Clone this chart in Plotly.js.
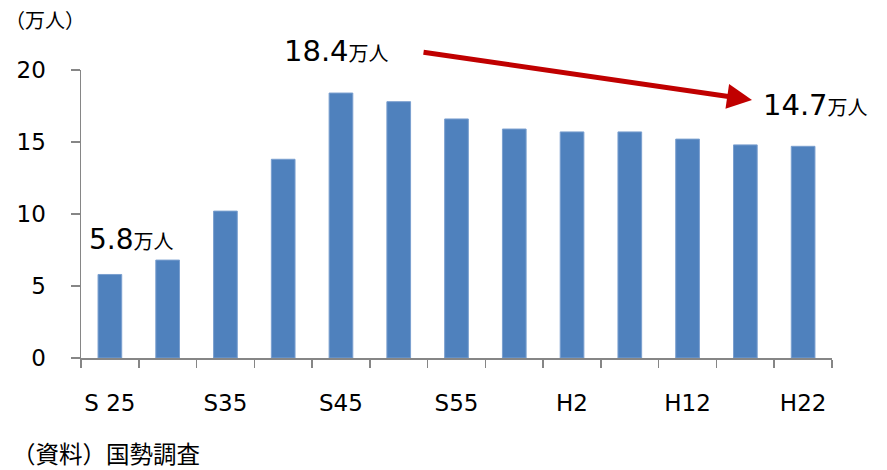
<!DOCTYPE html>
<html>
<head>
<meta charset="utf-8">
<script src="https://cdn.plot.ly/plotly-3.0.1.min.js"></script>
<style>html,body{margin:0;padding:0;background:#fff;}#chart{width:887px;height:470px;}</style>
</head>
<body>
<div id="chart"></div>
<script>
const categories = ["S25","S30","S35","S40","S45","S50","S55","S60","H2","H7","H12","H17","H22"];
const tickLabels = ["S 25","","S35","","S45","","S55","","H2","","H12","","H22"];
const population = [5.8, 6.8, 10.2, 13.8, 18.4, 17.8, 16.6, 15.9, 15.7, 15.7, 15.2, 14.8, 14.7];
const yTicks = [0, 5, 10, 15, 20];

const FONT = "DejaVu Sans, Verdana, 'Noto Sans CJK JP', sans-serif";
const JP = "'Noto Sans CJK JP', sans-serif";

const trace = {
  type: "bar",
  x: categories,
  y: population,
  marker: {color: "#4F81BD", line: {color: "#7A9FCF", width: 1}},
  hoverinfo: "x+y"
};

const unit = s => `<span style="font-size:20px;font-family:'Noto Sans CJK JP'">${s}</span>`;

const layout = {
  width: 887, height: 470,
  margin: {l: 81, r: 55, t: 70, b: 112},
  paper_bgcolor: "#fff", plot_bgcolor: "#fff",
  showlegend: false,
  bargap: 0.59,
  font: {family: FONT, color: "#000"},
  xaxis: {
    type: "category",
    tickmode: "array",
    tickvals: categories,
    ticktext: tickLabels,
    tickson: "boundaries",
    tickangle: 0,
    ticks: "outside", ticklen: 8, tickcolor: "#868686", tickwidth: 1.5,
    showline: true, linecolor: "#868686", linewidth: 1.5,
    showgrid: false, zeroline: false,
    tickfont: {size: 23, family: FONT, color: "#000"},
    ticklabelstandoff: 24
  },
  yaxis: {
    range: [0, 20],
    tickmode: "array",
    tickvals: yTicks,
    ticks: "outside", ticklen: 9, tickcolor: "#868686", tickwidth: 1.5,
    showline: true, linecolor: "#868686", linewidth: 1.5,
    showgrid: false, zeroline: false,
    tickfont: {size: 23, family: FONT, color: "#000"},
    ticklabelstandoff: 20
  },
  annotations: [
    {xref: "paper", yref: "paper", x: -0.104, y: 1.174, xanchor: "left", yanchor: "middle",
     text: "（万人）", showarrow: false, font: {size: 20, family: JP}},
    {xref: "paper", yref: "paper", x: 0.2676, y: 1.0677, xanchor: "left", yanchor: "middle",
     text: "18.4" + unit("万人"), showarrow: false, font: {size: 29, family: FONT}},
    {xref: "paper", yref: "paper", x: 0.906, y: 0.88, xanchor: "left", yanchor: "middle",
     text: "14.7" + unit("万人"), showarrow: false, font: {size: 29, family: FONT}},
    {xref: "paper", yref: "paper", x: 0.008, y: 0.41, xanchor: "left", yanchor: "middle",
     text: "5.8" + unit("万人"), showarrow: false, font: {size: 28, family: FONT}},
    {xref: "paper", yref: "paper", x: -0.094, y: -0.33, xanchor: "left", yanchor: "middle",
     text: "（資料）国勢調査", showarrow: false, font: {size: 23.5, family: JP}},
    {xref: "paper", yref: "paper", x: 0.8935, y: 0.8958, ax: -330, ay: -48,
     axref: "pixel", ayref: "pixel", text: "", showarrow: true,
     arrowhead: 2, arrowsize: 1, arrowwidth: 5, arrowcolor: "#C00000"}
  ]
};

Plotly.newPlot("chart", [trace], layout, {displayModeBar: false, staticPlot: true});
</script>
</body>
</html>
